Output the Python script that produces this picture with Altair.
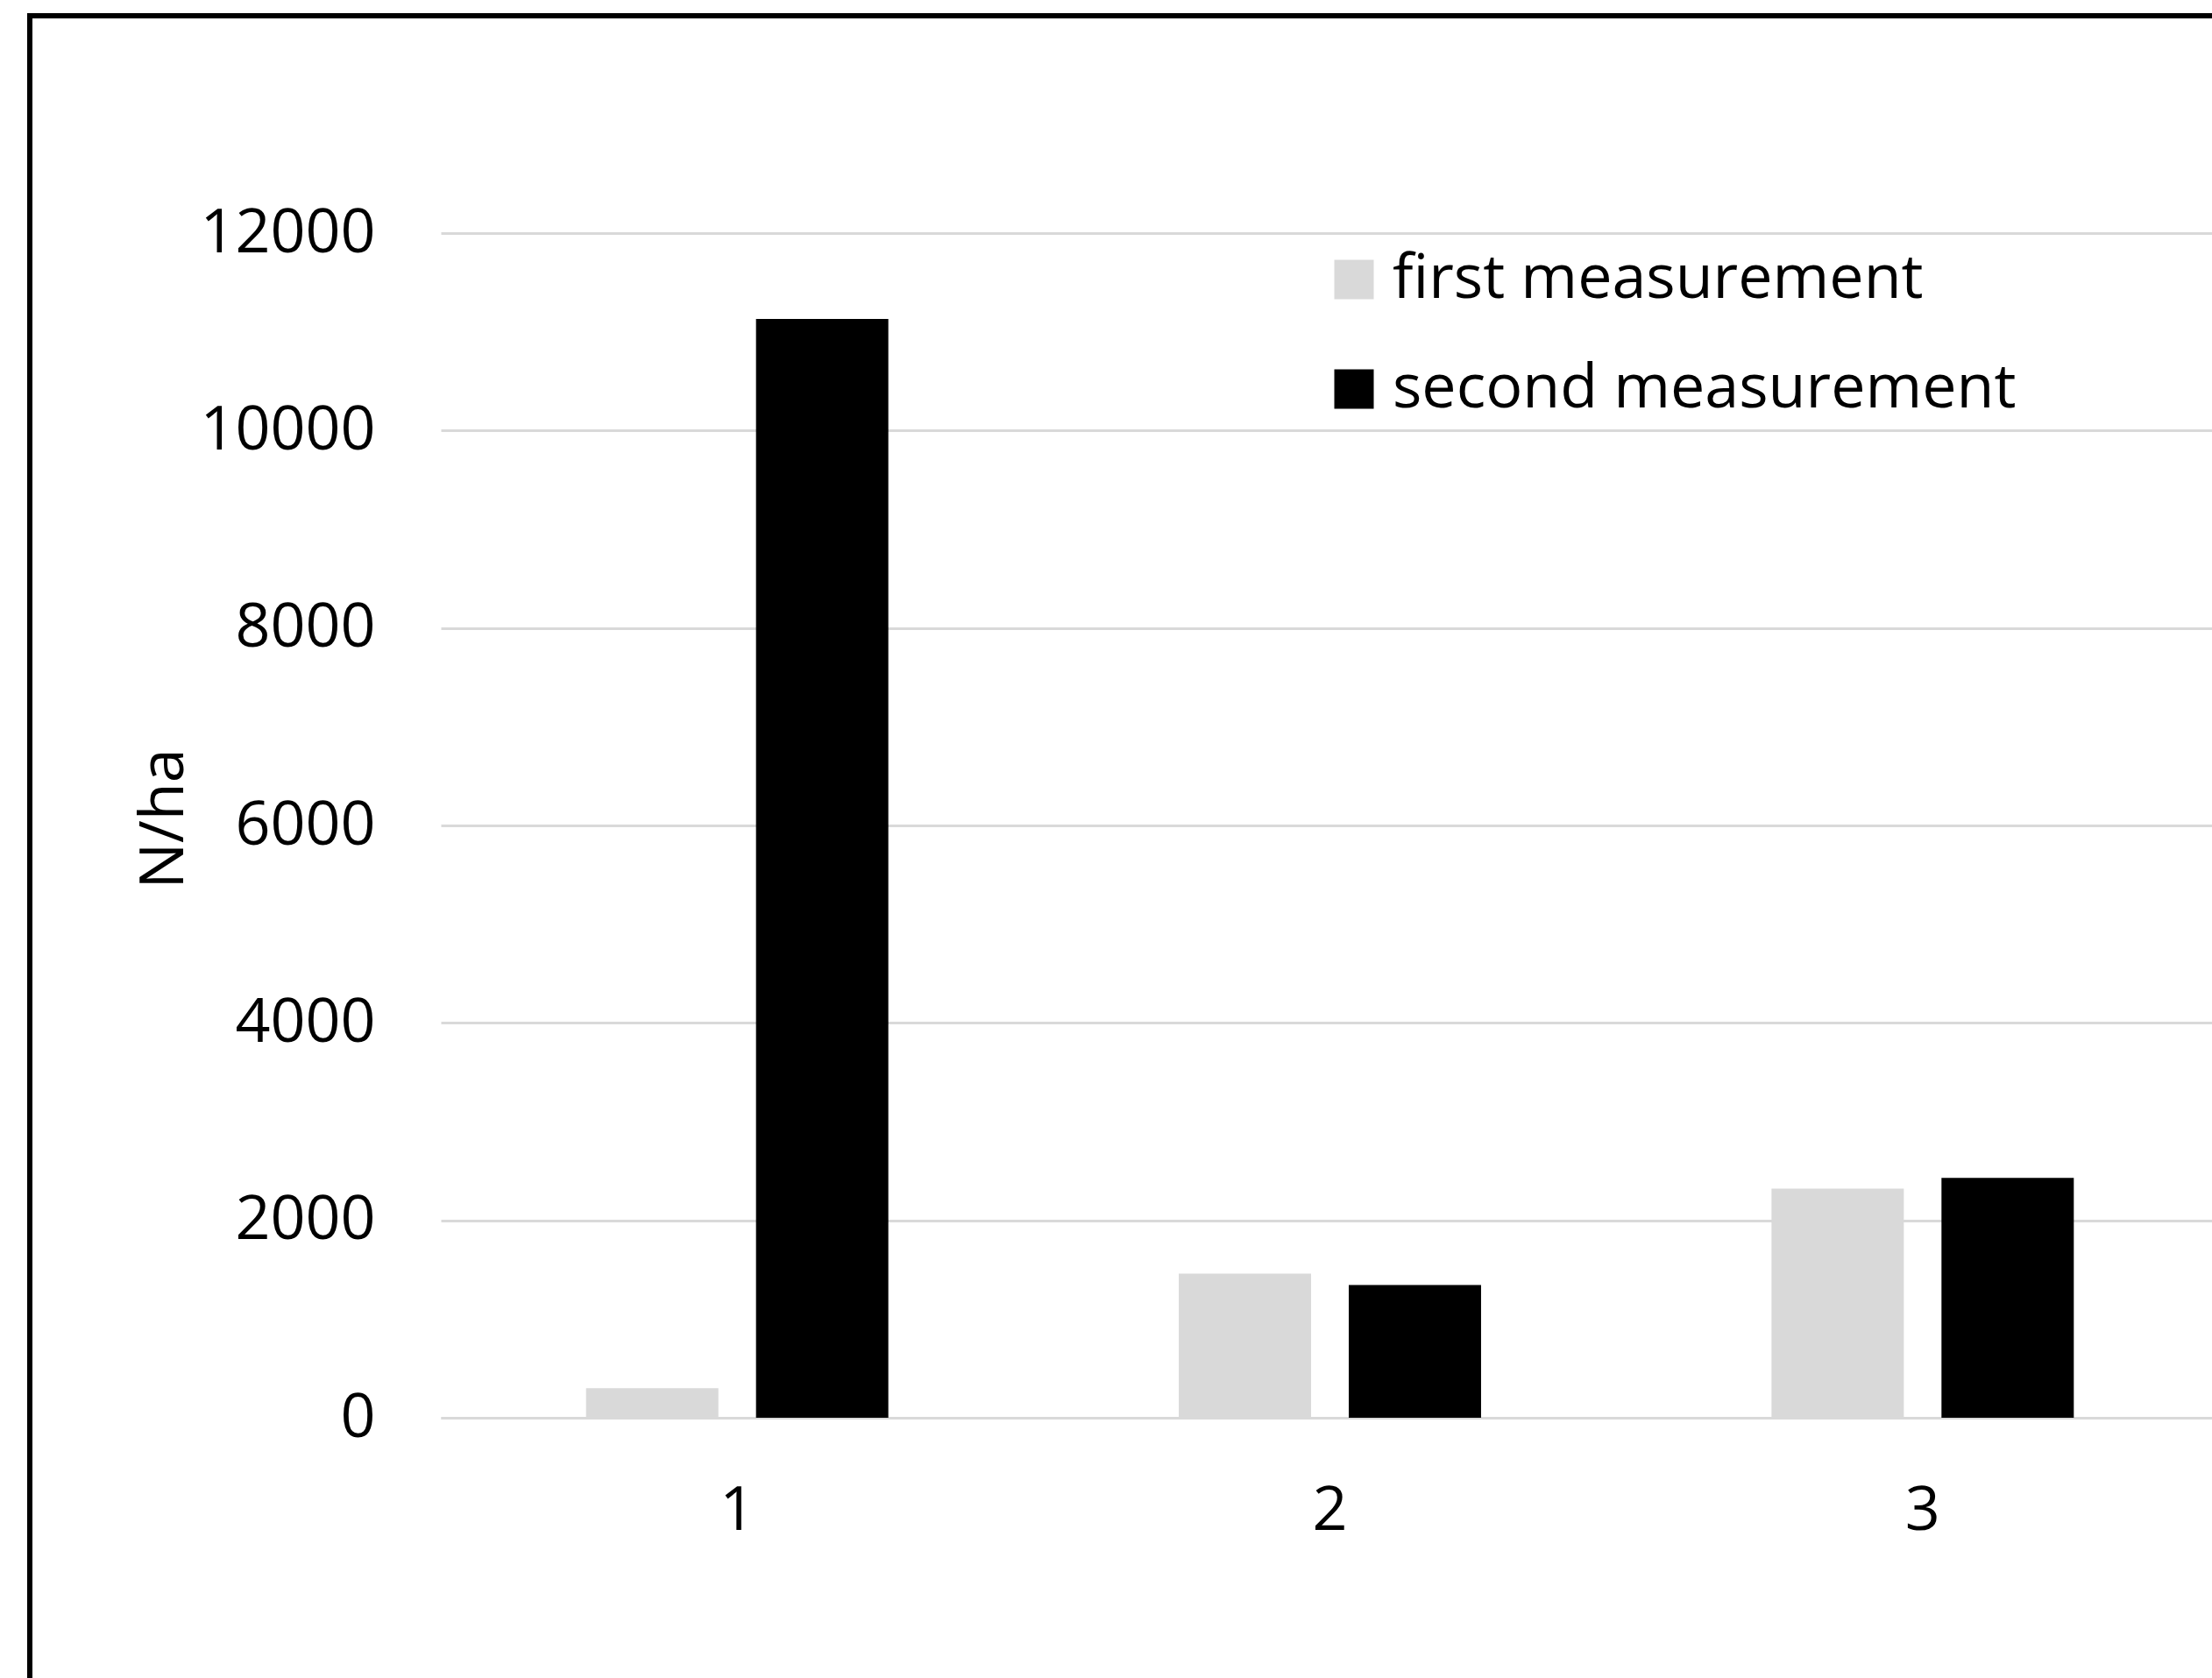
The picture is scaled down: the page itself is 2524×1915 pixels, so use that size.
import altair as alt
import pandas as pd

# Plot sites on the x axis and the two survey rounds
sites = ["1", "2", "3"]
series = ["first measurement", "second measurement"]
first_values = [300, 1460, 2320]
second_values = [11130, 1345, 2430]
y_ticks = [0, 2000, 4000, 6000, 8000, 10000, 12000]

rows = []
for site, v1, v2 in zip(sites, first_values, second_values):
    rows.append({"site": site, "measurement": series[0], "value": v1})
    rows.append({"site": site, "measurement": series[1], "value": v2})
df = pd.DataFrame(rows)

FONT = "Open Sans"
PLOT_W, PLOT_H = 2021, 1352

bars = alt.Chart(df).mark_bar().encode(
    x=alt.X(
        "site:N",
        sort=sites,
        scale=alt.Scale(range=[0, 2029], paddingInner=0.49, paddingOuter=0.245),
        axis=alt.Axis(
            title=None,
            labelAngle=0,
            labelFont=FONT,
            labelFontSize=70,
            labelColor="#000000",
            labelBaseline="top",
            labelPadding=72,
            labelLimit=0,
            ticks=False,
            tickSize=0,
            domain=True,
            domainColor="#d9d9d9",
            domainWidth=3,
            grid=False,
        ),
    ),
    xOffset=alt.XOffset(
        "measurement:N",
        sort=series,
        scale=alt.Scale(paddingInner=0.2216, paddingOuter=0),
    ),
    y=alt.Y(
        "value:Q",
        scale=alt.Scale(domain=[0, 12000], nice=False),
        axis=alt.Axis(
            values=y_ticks,
            format="d",
            title="N/ha",
            titleFont=FONT,
            titleFontSize=70,
            titleFontWeight="normal",
            titleColor="#000000",
            titleAngle=270,
            titleAlign="center",
            titleBaseline="alphabetic",
            titleX=-295,
            titleY=668,
            labelFont=FONT,
            labelFontSize=70,
            labelColor="#000000",
            labelBaseline="middle",
            labelPadding=75,
            labelLimit=0,
            ticks=False,
            tickSize=0,
            domain=False,
            grid=True,
            gridColor="#d9d9d9",
            gridWidth=3,
        ),
    ),
    color=alt.Color(
        "measurement:N",
        sort=series,
        scale=alt.Scale(domain=series, range=["#d9d9d9", "#000000"]),
        legend=alt.Legend(
            title=None,
            orient="none",
            legendX=1007,
            legendY=18,
            symbolType="square",
            symbolSize=2025,
            symbolStrokeWidth=0,
            labelFont=FONT,
            labelFontSize=70,
            labelColor="#000000",
            labelOffset=9,
            labelLimit=0,
            rowPadding=55,
            padding=0,
        ),
    ),
)

# Outer black frame around the figure
frame = alt.Chart(pd.DataFrame({"k": [0]})).mark_rect(
    filled=False, stroke="#000000", strokeWidth=6
).encode(
    x=alt.value(-469),
    x2=alt.value(2300),
    y=alt.value(-248),
    y2=alt.value(1900),
)

chart = alt.layer(bars, frame).properties(
    width=PLOT_W,
    height=PLOT_H,
    autosize=alt.AutoSizeParams(type="none"),
    padding={"left": 503, "top": 266, "right": 0, "bottom": 297},
    background="#ffffff",
).configure_view(stroke=None)

chart.save("out.html", embed_options={"renderer": "svg", "actions": False})
